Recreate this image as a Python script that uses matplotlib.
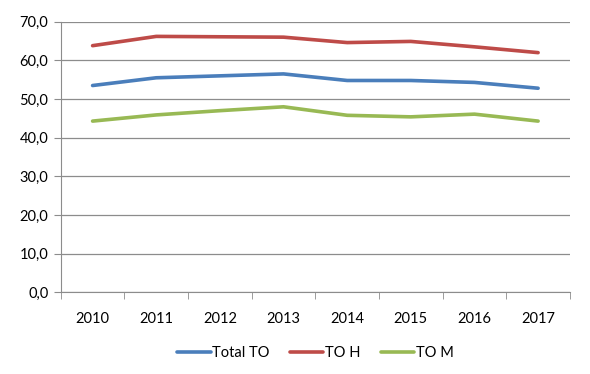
import numpy as np
import matplotlib.pyplot as plt
from matplotlib.ticker import FuncFormatter, FixedLocator

plt.rcParams['font.family'] = ['Lato', 'DejaVu Sans']

# Datos
anos = ['2010', '2011', '2012', '2013', '2014', '2015', '2016', '2017']
total_to = [53.5, 55.5, 56.0, 56.5, 54.8, 54.8, 54.3, 52.8]
to_h = [63.8, 66.2, 66.1, 66.0, 64.6, 64.9, 63.5, 62.0]
to_m = [44.3, 45.9, 47.0, 48.0, 45.8, 45.4, 46.1, 44.3]

fig = plt.figure(figsize=(5.9, 3.74), dpi=100)
ax = fig.add_axes([0.103, 0.218, 0.863, 0.724])

x = np.arange(len(anos))
ax.plot(x, total_to, color='#4A7EBB', lw=2.6, label='Total TO', solid_capstyle='round')
ax.plot(x, to_h, color='#BE4B48', lw=2.6, label='TO H', solid_capstyle='round')
ax.plot(x, to_m, color='#98B954', lw=2.6, label='TO M', solid_capstyle='round')

ax.set_xlim(-0.5, len(anos) - 0.5)
ax.set_ylim(0, 70)
ax.set_yticks(np.arange(0, 71, 10))
ax.yaxis.set_major_formatter(FuncFormatter(lambda v, p: f'{v:.1f}'.replace('.', ',')))
ax.grid(axis='y', color='#8c8c8c', lw=0.9)
ax.set_axisbelow(True)

# etiquetas en el centro, marcas entre categorias
ax.set_xticks(x)
ax.set_xticklabels(anos)
ax.xaxis.set_minor_locator(FixedLocator(np.arange(-0.5, len(anos), 1)))
ax.tick_params(axis='x', which='major', length=0, pad=14, labelsize=10.5)
ax.tick_params(axis='x', which='minor', length=5, color='#8c8c8c')
ax.tick_params(axis='y', length=5, color='#8c8c8c', labelsize=10.5, pad=4)

for s in ['top', 'right']:
    ax.spines[s].set_visible(False)
ax.spines['left'].set_color('#8c8c8c')
ax.spines['bottom'].set_color('#8c8c8c')

ax.legend(loc='center', bbox_to_anchor=(0.5, -0.223), ncol=3, frameon=False,
          fontsize=10.5, handlelength=2.3, handletextpad=0.1, columnspacing=1.4)

fig.savefig('out.png', dpi=100)
